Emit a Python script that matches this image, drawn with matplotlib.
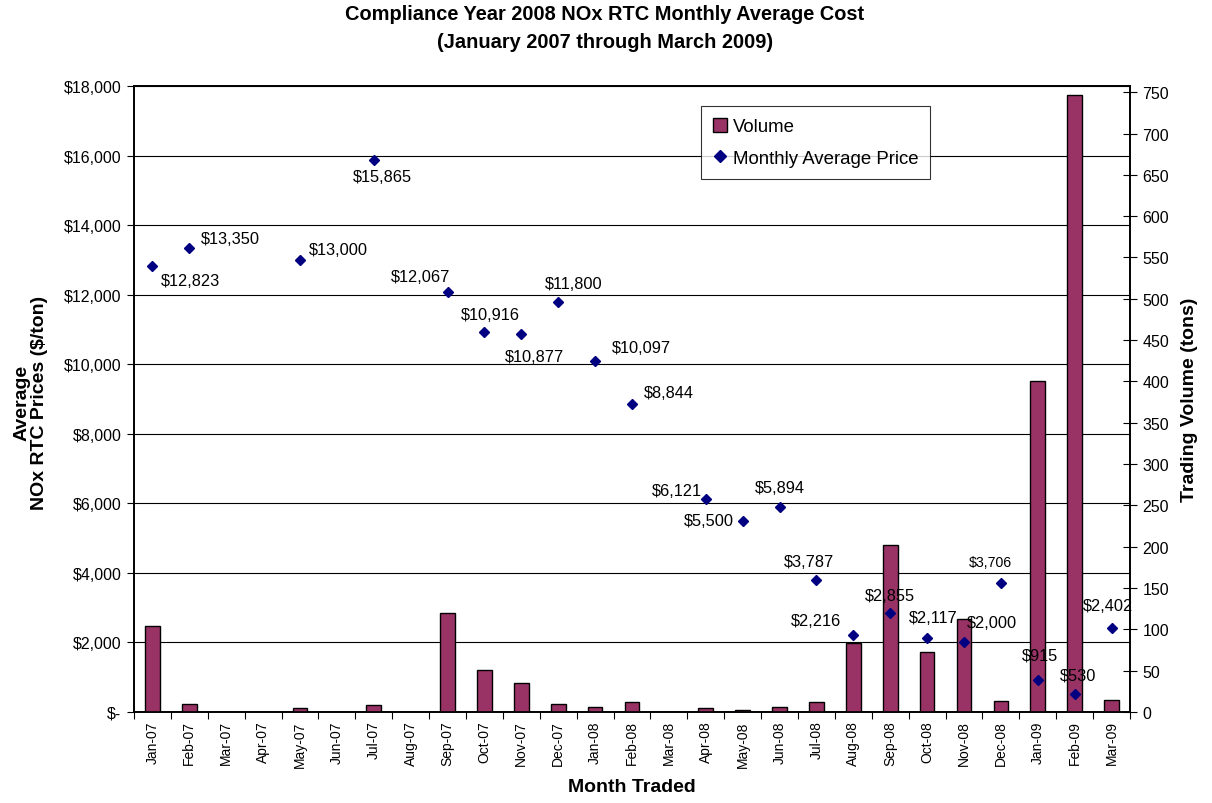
import numpy as np
import matplotlib
matplotlib.use("Agg")
import matplotlib.pyplot as plt
from matplotlib.lines import Line2D
from matplotlib.patches import Patch
from matplotlib.ticker import FuncFormatter, MultipleLocator

plt.rcParams['font.family'] = ['Liberation Sans', 'DejaVu Sans']

months = ['Jan-07', 'Feb-07', 'Mar-07', 'Apr-07', 'May-07', 'Jun-07', 'Jul-07',
          'Aug-07', 'Sep-07', 'Oct-07', 'Nov-07', 'Dec-07', 'Jan-08', 'Feb-08',
          'Mar-08', 'Apr-08', 'May-08', 'Jun-08', 'Jul-08', 'Aug-08', 'Sep-08',
          'Oct-08', 'Nov-08', 'Dec-08', 'Jan-09', 'Feb-09', 'Mar-09']

# trading volume (tons)
volume = [104, 10, 0, 0, 5, 0, 9, 0, 120, 51, 35, 10, 6, 12,
          0, 5, 3, 6, 12, 84, 202, 73, 113, 13, 400, 747, 15]

# monthly average price ($/ton), nan = no trades
price = [12823, 13350, np.nan, np.nan, 13000, np.nan, 15865, np.nan, 12067,
         10916, 10877, 11800, 10097, 8844, np.nan, 6121, 5500, 5894, 3787,
         2216, 2855, 2117, 2000, 3706, 915, 530, 2402]

# where each price label sits (pixel offset from its point, alignment)
label_pos = {
    'Jan-07': (8, -14, 'left'), 'Feb-07': (12, 9, 'left'),
    'May-07': (9, 10, 'left'), 'Jul-07': (9, -16, 'center'),
    'Sep-07': (3, 16, 'right'), 'Oct-07': (6, 18, 'center'),
    'Nov-07': (13, -23, 'center'), 'Dec-07': (15, 18, 'center'),
    'Jan-08': (17, 13, 'left'), 'Feb-08': (12, 12, 'left'),
    'Apr-08': (-4, 9, 'right'), 'May-08': (-9, 0, 'right'),
    'Jun-08': (0, 20, 'center'), 'Jul-08': (-7, 19, 'center'),
    'Aug-08': (-12, 14, 'right'), 'Sep-08': (0, 17, 'center'),
    'Oct-08': (6, 21, 'center'), 'Nov-08': (3, 20, 'left'),
    'Dec-08': (-11, 21, 'center'), 'Jan-09': (2, 25, 'center'),
    'Feb-09': (3, 19, 'center'), 'Mar-09': (-4, 23, 'center'),
}

bar_color = '#993366'
dot_color = '#000080'
fs = 11.8

fig = plt.figure(figsize=(12.12, 8.04), dpi=100)
ax = fig.add_axes([134 / 1212, 1 - 713 / 804, 996 / 1212, 626 / 804])
x = np.arange(len(months))

# price axis: grid + left ticks
ax.set_xlim(-0.5, len(months) - 0.5)
ax.set_ylim(0, 18000)
ax.yaxis.set_major_locator(MultipleLocator(2000))
ax.yaxis.set_major_formatter(FuncFormatter(lambda v, p: '$-' if v == 0 else '${:,.0f}'.format(v)))
ax.grid(axis='y', color='black', linewidth=0.8)
ax.set_axisbelow(True)
ax.tick_params(axis='y', direction='out', length=5, labelsize=11.5, pad=4)
ax.set_xticks(np.arange(-0.5, len(months), 1))
ax.set_xticklabels([])
ax.set_xticks(x, minor=True)
ax.set_xticklabels(months, minor=True, rotation=90, fontsize=10)
ax.tick_params(axis='x', which='major', direction='out', length=5)
ax.tick_params(axis='x', which='minor', length=0, pad=6)
for s in ax.spines.values():
    s.set_linewidth(1.2)

# volume axis: bars + right ticks
axv = ax.twinx()
axv.bar(x, volume, width=0.4, color=bar_color, edgecolor='black', linewidth=1, zorder=2)
axv.set_ylim(0, 757.5)
axv.yaxis.set_major_locator(MultipleLocator(50))
axv.tick_params(axis='y', direction='inout', length=10, labelsize=11.5, pad=4)
for s in axv.spines.values():
    s.set_linewidth(1.2)

# price points on top of the bars
axp = ax.twinx()
axp.set_ylim(ax.get_ylim())
axp.axis('off')
axp.plot(x, price, linestyle='none', marker='D', markersize=5.5, color=dot_color, zorder=3)
for i, m in enumerate(months):
    if m in label_pos:
        dx, dy, ha = label_pos[m]
        axp.annotate('${:,.0f}'.format(price[i]), (x[i], price[i]),
                     xytext=(dx, dy), textcoords='offset pixels',
                     ha=ha, va='center', fontsize=10.2 if m == 'Dec-08' else fs)

handles = [Patch(facecolor=bar_color, edgecolor='black', linewidth=1),
           Line2D([], [], linestyle='none', marker='D', markersize=6, color=dot_color)]
leg = axp.legend(handles, ['Volume', 'Monthly Average Price'], loc='upper left',
                 bbox_to_anchor=(701 / 1212, 1 - 107 / 804), bbox_transform=fig.transFigure,
                 fontsize=13.4, frameon=True, fancybox=False, handlelength=0.75,
                 handleheight=0.75, handletextpad=0.3, borderpad=0.65, labelspacing=0.75,
                 borderaxespad=0)
leg.get_frame().set_edgecolor('black')
leg.get_frame().set_linewidth(0.8)

fig.text(605 / 1212, 1 - 15 / 804, 'Compliance Year 2008 NOx RTC Monthly Average Cost',
         ha='center', va='center', fontsize=14.4, fontweight='bold')
fig.text(605 / 1212, 1 - 42 / 804, '(January 2007 through March 2009)',
         ha='center', va='center', fontsize=14.4, fontweight='bold')
fig.text(31 / 1212, 1 - 403 / 804, 'Average\nNOx RTC Prices ($/ton)', rotation=90,
         ha='center', va='center', fontsize=14, fontweight='bold', linespacing=1.05)
fig.text(1190 / 1212, 1 - 400 / 804, 'Trading Volume (tons)', rotation=90,
         ha='center', va='center', fontsize=14, fontweight='bold')
fig.text(632 / 1212, 1 - 788 / 804, 'Month Traded',
         ha='center', va='center', fontsize=14, fontweight='bold')

fig.savefig('out.png', dpi=100)
